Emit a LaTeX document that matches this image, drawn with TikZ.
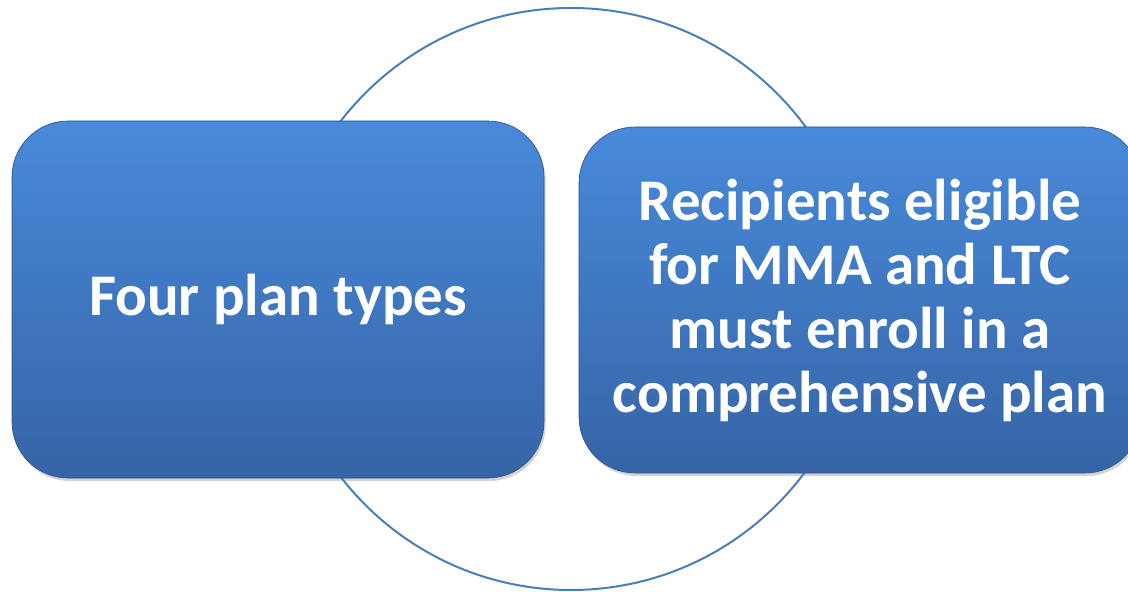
\documentclass[tikz,border=0pt]{standalone}
\usepackage{fontspec}
\setmainfont{Carlito}
\usepackage{tikz}
\usetikzlibrary{shadows}
\definecolor{ringblue}{RGB}{74,126,187}
\definecolor{boxtop}{RGB}{72,138,218}
\definecolor{boxbottom}{RGB}{54,100,166}
\tikzstyle{ring}=[draw=ringblue, line width=1pt]
\tikzstyle{planbox}=[rectangle, rounded corners=28pt, inner sep=0, outer sep=0,
                     top color=boxtop, bottom color=boxbottom, draw=boxbottom!80!black, line width=0.3pt,
                     drop shadow={opacity=0.35, shadow xshift=0.8pt, shadow yshift=-1.5pt},
                     text=white, align=center, font=\bfseries\fontsize{29.5}{32}\selectfont]
\tikzstyle{diagram}=[x=0.5pt, y=-0.5pt]

\begin{document}
\begin{tikzpicture}[diagram]
    \useasboundingbox (0, 0) rectangle (1128, 592);
    % ring behind the two boxes
    \coordinate (centre) at (571, 299);
    \draw[ring] (centre) circle [radius=145.5pt];
    \node[planbox, minimum width=266pt, minimum height=178.5pt] (types) at (278, 299.5) {Four plan types};
    \node[planbox, minimum width=281pt, minimum height=173pt] (enroll) at (860, 300)
        {Recipients eligible\\for MMA and LTC\\must enroll in a\\comprehensive plan};
\end{tikzpicture}
\end{document}
